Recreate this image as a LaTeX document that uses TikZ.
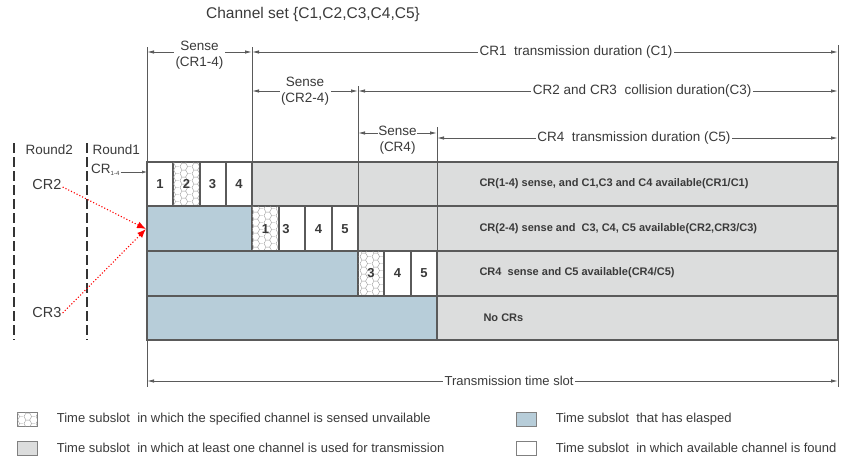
\documentclass[tikz,border=0pt]{standalone}
\usepackage{fontspec}
\setmainfont{Liberation Sans}
\usepackage{tikz}
\usetikzlibrary{arrows.meta,patterns,positioning}

\definecolor{cellgray}{HTML}{DCDDDD}
\definecolor{cellblue}{HTML}{B7CDD9}
\definecolor{linegray}{HTML}{5A5A5A}
\definecolor{txtgray}{HTML}{3A3A3A}

% honeycomb fill for a sensed unavailable channel
\pgfdeclarepatternformonly{honeycomb}{\pgfpointorigin}{\pgfpoint{12pt}{6.93pt}}{\pgfpoint{12pt}{6.93pt}}{
  \pgfsetlinewidth{0.4pt}
  \pgfpathmoveto{\pgfpoint{0pt}{3.465pt}}
  \pgfpathlineto{\pgfpoint{2pt}{0pt}}
  \pgfpathlineto{\pgfpoint{6pt}{0pt}}
  \pgfpathlineto{\pgfpoint{8pt}{3.465pt}}
  \pgfpathlineto{\pgfpoint{6pt}{6.93pt}}
  \pgfpathlineto{\pgfpoint{2pt}{6.93pt}}
  \pgfpathclose
  \pgfpathmoveto{\pgfpoint{8pt}{3.465pt}}
  \pgfpathlineto{\pgfpoint{12pt}{3.465pt}}
  \pgfusepath{stroke}
}

\begin{document}
\begin{tikzpicture}[x=1pt, y=-1pt,
    grid/.style={draw=linegray, line width=1.1pt},
    busy/.style={grid, fill=cellgray},
    gone/.style={grid, fill=cellblue},
    free/.style={grid, fill=white},
    hexcell/.style={grid, fill=white, postaction={pattern=honeycomb, pattern color=gray!80}},
    num/.style={font=\fontsize{13}{13}\selectfont\bfseries, text=txtgray},
    rowtxt/.style={font=\fontsize{11}{11}\selectfont\bfseries, text=txtgray, anchor=west},
    lbl/.style={font=\fontsize{13.5}{16}\selectfont, text=txtgray},
    dimlabel/.style={lbl, fill=white, inner sep=1.5pt, align=center},
    dim/.style={linegray, line width=0.9pt, {Latex[length=7pt,width=3.5pt]}-{Latex[length=7pt,width=3.5pt]}},
    vline/.style={linegray, line width=1pt},
    roundline/.style={black!80, line width=1.8pt, dash pattern=on 10pt off 4pt},
    hit/.style={red, line width=1.1pt, dotted, -{Latex[length=9pt,width=7pt]}},
    keybox/.style={draw=gray, line width=0.6pt, minimum width=20pt, minimum height=14pt, inner sep=0pt},
    keytxt/.style={font=\fontsize{13}{13}\selectfont, text=txtgray, anchor=west}
]
\useasboundingbox (0,0) rectangle (845,461);

\node[lbl, font=\fontsize{15.5}{16}\selectfont] (title) at (313,14) {Channel set \{C1,C2,C3,C4,C5\}};

% row 1
\draw[free] (147,162) rectangle (173,206);
\draw[hexcell] (173,162) rectangle (200,206);
\draw[free] (200,162) rectangle (226,206);
\draw[free] (226,162) rectangle (252,206);
\draw[busy] (252,162) rectangle (838,206);
% row 2
\draw[gone] (147,206) rectangle (252,251);
\draw[hexcell] (252,206) rectangle (279,251);
\draw[free] (279,206) rectangle (305,251);
\draw[free] (305,206) rectangle (332,251);
\draw[free] (332,206) rectangle (358,251);
\draw[busy] (358,206) rectangle (838,251);
% row 3
\draw[gone] (147,251) rectangle (358,296);
\draw[hexcell] (358,251) rectangle (384,296);
\draw[free] (384,251) rectangle (411,296);
\draw[free] (411,251) rectangle (437,296);
\draw[busy] (437,251) rectangle (838,296);
% row 4
\draw[gone] (147,296) rectangle (437,340);
\draw[busy] (437,296) rectangle (838,340);

\node[num] (a1) at (160,184) {1};
\node[num] (a2) at (186.5,184) {2};
\node[num] (a3) at (212.5,184) {3};
\node[num] (a4) at (239,184) {4};
\node[num] (b1) at (265.5,229) {1};
\node[num] (b3) at (286,229) {3};
\node[num] (b4) at (318.5,229) {4};
\node[num] (b5) at (345,229) {5};
\node[num] (c3) at (371,273) {3};
\node[num] (c4) at (397.5,273) {4};
\node[num] (c5) at (424,273) {5};

\node[rowtxt] (r1) at (476,184) {CR(1-4) sense, and C1,C3 and C4 available(CR1/C1)};
\node[rowtxt] (r2) at (476,229) {CR(2-4) sense and\ \ C3, C4, C5 available(CR2,CR3/C3)};
\node[rowtxt] (r3) at (476,273) {CR4\ \ sense and C5 available(CR4/C5)};
\node[rowtxt] (r4) at (480,318) {No CRs};

% time marks
\draw[vline] (147,47) -- (147,387);
\draw[vline] (838,45) -- (838,387);
\draw[vline] (252,47) -- (252,162);
\draw[vline] (358,86) -- (358,251);
\draw[vline] (437,127) -- (437,340);

\coordinate (s1l) at (147,52);
\coordinate (s1r) at (252,52);
\coordinate (d1r) at (838,52);
\coordinate (s2l) at (252,91);
\coordinate (s2r) at (358,91);
\coordinate (d2r) at (838,91);
\coordinate (s3l) at (358,133);
\coordinate (s3r) at (437,133);
\coordinate (d3l) at (437,138);
\coordinate (d3r) at (838,138);
\coordinate (tsl) at (147,381);
\coordinate (tsr) at (838,381);

\draw[dim] (s1l) -- (s1r) node[dimlabel, midway, yshift=-3pt] (sense1) {Sense\\(CR1-4)};
\draw[dim] (s1r) -- (d1r) node[dimlabel, pos=0.553] (dur1) {CR1\ \ transmission duration (C1)};
\draw[dim] (s2l) -- (s2r) node[dimlabel, midway, yshift=-0pt] (sense2) {Sense\\(CR2-4)};
\draw[dim] (s2r) -- (d2r) node[dimlabel, pos=0.592] (dur2) {CR2 and CR3\ \ collision duration(C3)};
\draw[dim] (s3l) -- (s3r) node[dimlabel, midway, yshift=-7pt, inner sep=0.5pt] (sense3) {Sense\\(CR4)};
\draw[dim] (d3l) -- (d3r) node[dimlabel, pos=0.491] (dur3) {CR4\ \ transmission duration (C5)};
\draw[dim] (tsl) -- (tsr) node[dimlabel, pos=0.524, font=\fontsize{13}{13}\selectfont] (slot) {Transmission time slot};

% rounds
\draw[roundline] (14,143) -- (14,340);
\draw[roundline] (87,143) -- (87,340);
\node[lbl, anchor=west] (round2) at (22,150) {Round2};
\node[lbl, anchor=west] (round1) at (89,150) {Round1};
\node[lbl, anchor=west, inner sep=1pt] (cr14) at (90,170) {CR\raisebox{-2.5pt}{\fontsize{6}{6}\selectfont 1-4}\hspace{8pt}};
\coordinate (in1) at (147,172);
\draw[linegray, line width=0.6pt, -{Latex[length=5pt,width=3pt]}] (cr14.east |- in1) -- (in1);

\node[lbl, font=\fontsize{14.5}{15}\selectfont, inner sep=1pt] (cr2) at (47,185) {CR2};
\node[lbl, font=\fontsize{14.5}{15}\selectfont, inner sep=1pt] (cr3) at (47,313) {CR3};
\coordinate (hitpt) at (146,229);
\draw[hit] ([yshift=-2pt]cr2.east) -- (hitpt);
\draw[hit] (cr3.east) -- (hitpt);

% legend
\node[keybox, fill=white, postaction={pattern=honeycomb, pattern color=gray!80}] (k1) at (27,419) {};
\node[keybox, fill=cellgray] (k2) at (27,448) {};
\node[keybox, fill=cellblue] (k3) at (526,419) {};
\node[keybox, fill=white] (k4) at (526,448) {};
\node[keytxt, right=16pt of k1] (t1) {Time subslot\ \ in which the specified channel is sensed unvailable};
\node[keytxt, right=16pt of k2] (t2) {Time subslot\ \ in which at least one channel is used for transmission};
\node[keytxt, right=16pt of k3] (t3) {Time subslot\ \ that has elasped};
\node[keytxt, right=16pt of k4] (t4) {Time subslot\ \ in which available channel is found};

\end{tikzpicture}
\end{document}
